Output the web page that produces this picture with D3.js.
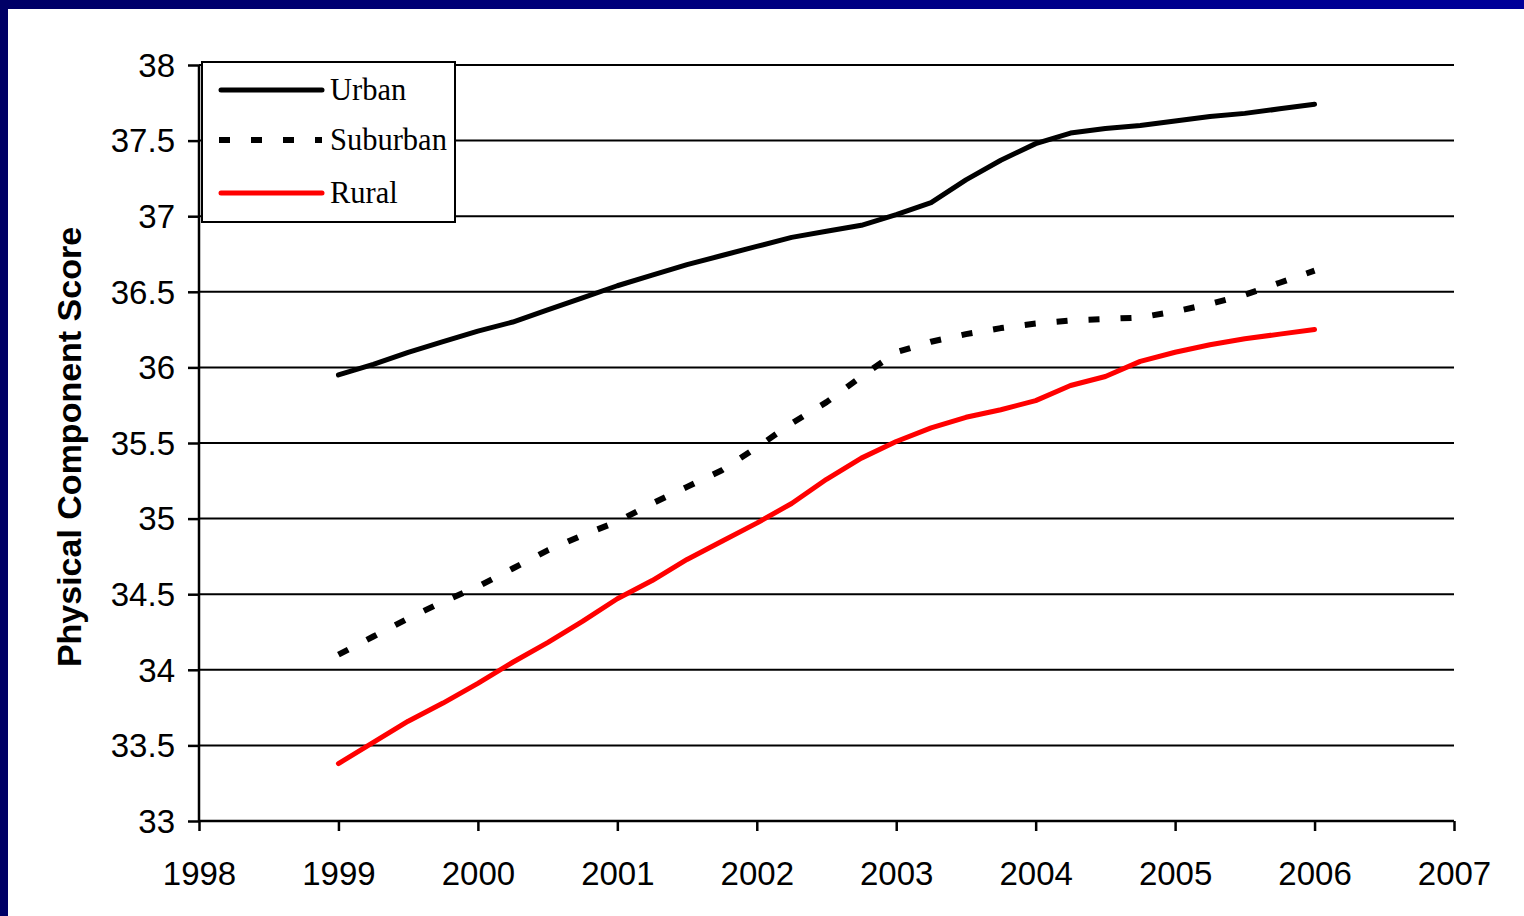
<!DOCTYPE html>
<html>
<head>
<meta charset="utf-8">
<script src="https://cdn.jsdelivr.net/npm/d3@7"></script>
<style>
  body { margin: 0; background: #fff; }
  svg { display: block; }
</style>
</head>
<body>
<svg id="chart" width="1524" height="916"></svg>
<script>
// quarterly points
var years = [1999, 1999.25, 1999.5, 1999.75, 2000, 2000.25, 2000.5, 2000.75,
             2001, 2001.25, 2001.5, 2001.75, 2002, 2002.25, 2002.5, 2002.75,
             2003, 2003.25, 2003.5, 2003.75, 2004, 2004.25, 2004.5, 2004.75,
             2005, 2005.25, 2005.5, 2005.75, 2006];

var urban = [35.95, 36.02, 36.10, 36.17, 36.24, 36.30, 36.38, 36.46,
             36.54, 36.61, 36.68, 36.74, 36.80, 36.86, 36.90, 36.94,
             37.01, 37.09, 37.24, 37.37, 37.48, 37.55, 37.58, 37.60,
             37.63, 37.66, 37.68, 37.71, 37.74];

var suburban = [34.10, 34.22, 34.34, 34.45, 34.55, 34.67, 34.79, 34.89,
                34.98, 35.10, 35.21, 35.32, 35.47, 35.63, 35.77, 35.94,
                36.10, 36.17, 36.22, 36.26, 36.29, 36.31, 36.32, 36.33,
                36.37, 36.42, 36.48, 36.56, 36.64];

var rural = [33.38, 33.52, 33.66, 33.78, 33.91, 34.05, 34.18, 34.32,
             34.47, 34.59, 34.73, 34.85, 34.97, 35.10, 35.26, 35.40,
             35.51, 35.60, 35.67, 35.72, 35.78, 35.88, 35.94, 36.04,
             36.10, 36.15, 36.19, 36.22, 36.25];

var seriesNames = ['Urban', 'Suburban', 'Rural'];
var xTicks = [1998, 1999, 2000, 2001, 2002, 2003, 2004, 2005, 2006, 2007];
var yTicks = [33, 33.5, 34, 34.5, 35, 35.5, 36, 36.5, 37, 37.5, 38];

var svg = d3.select('#chart');
var W = +svg.attr('width'), H = +svg.attr('height');

// slide frame: navy band on top and left
var defs = svg.append('defs');
var grad = defs.append('linearGradient').attr('id', 'band');
grad.append('stop').attr('offset', '0%').attr('stop-color', '#000066');
grad.append('stop').attr('offset', '100%').attr('stop-color', '#000099');
svg.append('rect').attr('x', 0).attr('y', 0).attr('width', W).attr('height', 9).attr('fill', 'url(#band)');
svg.append('rect').attr('x', 0).attr('y', 0).attr('width', 8).attr('height', H).attr('fill', '#000066');

var x = d3.scaleLinear().domain([1998, 2007]).range([199, 1454]);
var y = d3.scaleLinear().domain([33, 38]).range([821, 65]);

// gridlines
svg.append('g')
    .selectAll('line')
    .data(yTicks.slice(1))
    .enter().append('line')
    .attr('x1', x(1998)).attr('x2', x(2007))
    .attr('y1', function(d) { return y(d); })
    .attr('y2', function(d) { return y(d); })
    .attr('stroke', '#000').attr('stroke-width', 2);

// axes
var yAxis = svg.append('g')
    .attr('transform', 'translate(' + x(1998) + ',0)')
    .call(d3.axisLeft(y).tickValues(yTicks).tickSize(11).tickPadding(13)
        .tickFormat(function(d) { return String(d); }));

var xAxis = svg.append('g')
    .attr('transform', 'translate(0,' + y(33) + ')')
    .call(d3.axisBottom(x).tickValues(xTicks).tickSize(10).tickPadding(31)
        .tickFormat(d3.format('d')));

[yAxis, xAxis].forEach(function(a) {
    a.select('.domain').attr('stroke', '#000').attr('stroke-width', 2.5);
    a.selectAll('.tick line').attr('stroke', '#000').attr('stroke-width', 2.5);
    a.selectAll('.tick text')
        .attr('fill', '#000')
        .style('font-family', 'Liberation Sans, Arial, sans-serif')
        .style('font-size', '33px');
});
yAxis.select('.domain').attr('d', 'M0,' + y(33) + 'V' + y(38));
xAxis.select('.domain').attr('d', 'M' + x(1998) + ',0H' + x(2007));
yAxis.selectAll('.tick text').attr('dy', '0.34em');

// y axis title
svg.append('text')
    .attr('transform', 'translate(81,' + ((y(33) + y(38)) / 2 + 4) + ') rotate(-90)')
    .attr('text-anchor', 'middle')
    .style('font-family', 'Liberation Sans, Arial, sans-serif')
    .style('font-weight', 'bold')
    .style('font-size', '34px')
    .text('Physical Component Score');

// lines
var line = d3.line()
    .x(function(d) { return x(d[0]); })
    .y(function(d) { return y(d[1]); });

var styles = [
    {stroke: '#000', width: 5, dash: null},
    {stroke: '#000', width: 6, dash: '11,21'},
    {stroke: '#ff0000', width: 5, dash: null}
];
var seriesData = [urban, suburban, rural];

seriesData.forEach(function(vals, i) {
    svg.append('path')
        .datum(years.map(function(yr, j) { return [yr, vals[j]]; }))
        .attr('d', line)
        .attr('fill', 'none')
        .attr('stroke', styles[i].stroke)
        .attr('stroke-width', styles[i].width)
        .attr('stroke-linejoin', 'round')
        .attr('stroke-linecap', styles[i].dash ? 'butt' : 'round')
        .attr('stroke-dasharray', styles[i].dash);
});

// legend
var legend = svg.append('g').attr('transform', 'translate(202,62)');
legend.append('rect')
    .attr('width', 253).attr('height', 160)
    .attr('fill', '#fff').attr('stroke', '#000').attr('stroke-width', 2);

var rowY = [28, 78, 131];
seriesNames.forEach(function(name, i) {
    legend.append('line')
        .attr('x1', i === 1 ? 17 : 19).attr('x2', 120)
        .attr('y1', rowY[i]).attr('y2', rowY[i])
        .attr('stroke', styles[i].stroke)
        .attr('stroke-width', styles[i].width)
        .attr('stroke-linecap', styles[i].dash ? 'butt' : 'round')
        .attr('stroke-dasharray', styles[i].dash);
    legend.append('text')
        .attr('x', 128).attr('y', rowY[i] + 10)
        .style('font-family', 'Liberation Serif, Times New Roman, serif')
        .style('font-size', '30.5px')
        .text(name);
});
</script>
</body>
</html>
